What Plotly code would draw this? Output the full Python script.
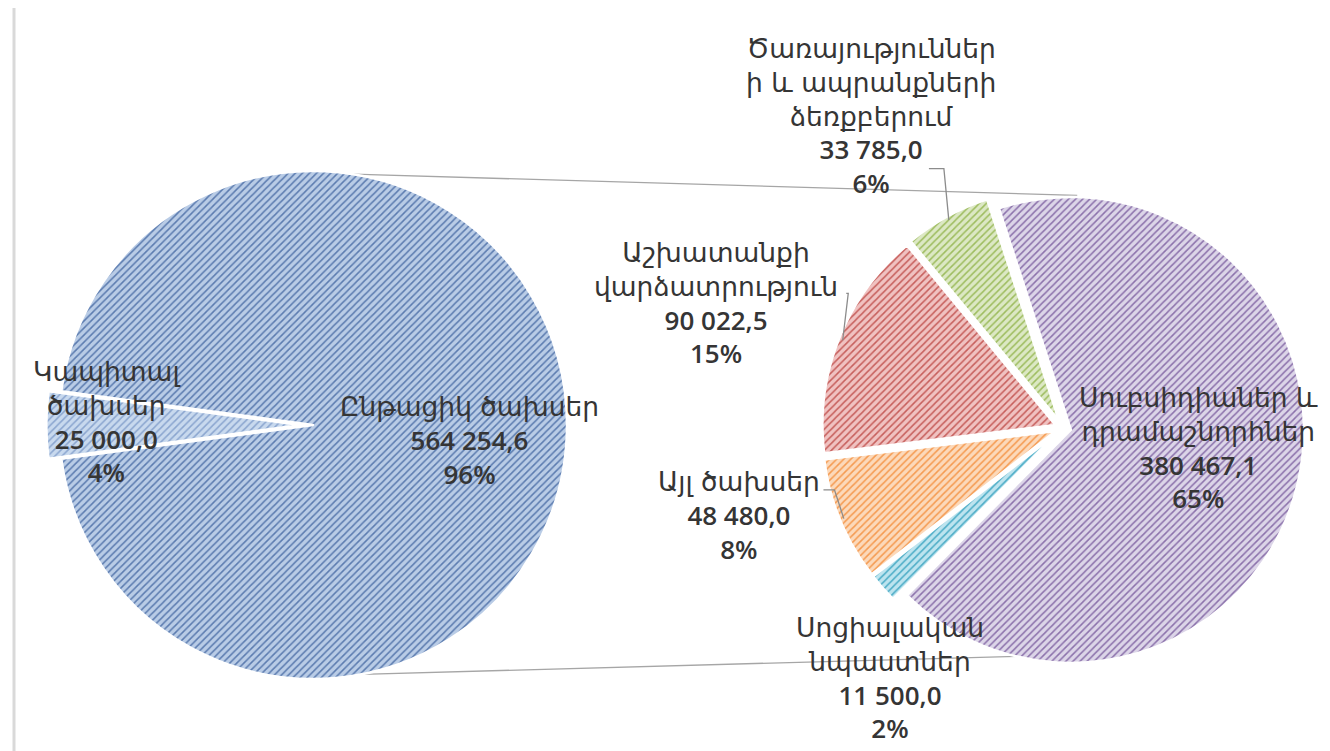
import math
import plotly.graph_objects as go

# ---------------- data ----------------
main_labels = ["Կապիտալ<br>ծախսեր", "Ընթացիկ ծախսեր"]
main_values = [25000.0, 564254.6]

sub_labels = [
    "Սուբսիդիաներ և<br>դրամաշնորհներ",
    "Սոցիալական<br>նպաստներ",
    "Այլ ծախսեր",
    "Աշխատանքի<br>վարձատրություն",
    "Ծառայություններ<br>ի և ապրանքների<br>ձեռքբերում",
]
sub_values = [380467.1, 11500.0, 48480.0, 90022.5, 33785.0]

# ---------------- styles ----------------
W, H = 1330, 751
main_bg = ["#C8D9EE", "#B9CCE6"]
main_fg = ["#8AA5CF", "#5B7BAF"]
sub_bg = ["#DCD5E8", "#BDE4EF", "#FCD9BA", "#F0C2C1", "#DCE8C4"]
sub_fg = ["#8B71AB", "#4BACC6", "#F59A50", "#C65E5B", "#9DBC5E"]

L_CX, L_CY, L_R, L_PULL = 305, 417, 254, 0.05
R_CX, R_CY, R_R, R_PULL = 1055, 420, 233, 0.035
R_ROT = -18

ARM_FONT = "DejaVu Sans"
NUM_FONT = "Open Sans"
TXT = "#353535"

grand_total = sum(main_values)


def fmt_num(v):
    return f"{v:,.1f}".replace(",", " ").replace(".", ",")


def fmt_pct(v):
    return f"{round(v / grand_total * 100)}%"


def domain(cx, cy, r, pull):
    half = r * (1 + pull)
    return dict(x=[(cx - half) / W, (cx + half) / W],
                y=[1 - (cy + half) / H, 1 - (cy - half) / H])


def slice_mids(values, rotation):
    tot = sum(values)
    mids, a = [], rotation
    for v in values:
        span = v / tot * 360
        mids.append(a + span / 2)
        a += span
    return mids


def polar(cx, cy, r, ang):
    t = math.radians(ang)
    return cx + r * math.sin(t), cy - r * math.cos(t)


def px(x, y):
    return x / W, 1 - y / H


# rotation of the main pie: the small slice centred on the left side
main_rot = 270 - main_values[0] / sum(main_values) * 360 / 2

fig = go.Figure()
fig.add_trace(go.Pie(
    values=main_values, labels=[l.replace("<br>", " ") for l in main_labels],
    sort=False, direction="clockwise", rotation=main_rot,
    pull=[L_PULL, 0], textinfo="none", showlegend=False,
    marker=dict(colors=main_bg, line=dict(color="white", width=2.5),
                pattern=dict(shape="/", fgcolor=main_fg, bgcolor=main_bg,
                             size=5, solidity=0.3, fillmode="replace")),
    domain=domain(L_CX, L_CY, L_R, L_PULL),
))
fig.add_trace(go.Pie(
    values=sub_values, labels=[l.replace("<br>", " ") for l in sub_labels],
    sort=False, direction="clockwise", rotation=R_ROT,
    pull=[R_PULL] * len(sub_values), textinfo="none", showlegend=False,
    marker=dict(colors=sub_bg, line=dict(color="white", width=2.5),
                pattern=dict(shape="/", fgcolor=sub_fg, bgcolor=sub_bg,
                             size=5, solidity=0.3, fillmode="replace")),
    domain=domain(R_CX, R_CY, R_R, R_PULL),
))

# label placement: (angle offset from slice middle, radius factor)
main_lab_pos = [(0.5, 0.81), (6, 0.62)]
sub_lab_pos = [(-4.7, 0.59), (-13.8, 1.31), (7.1, 1.44), (-2.1, 1.58), (-2.9, 1.57)]
# leader lines: (start, elbow) offsets relative to label centre in px
sub_leaders = [None, None, ((84, -27), (95, -27)), ((130, -11), (132, -11)),
               ((58, 52), (73, 52))]


def label_text(name, v):
    return (f"<span style='font-family:{ARM_FONT};font-size:26.5px'>{name}</span>"
            f"<br><span style='font-weight:600'>{fmt_num(v)}<br>{fmt_pct(v)}</span>")


annotations = []
shapes = []

for name, v, mid, (da, rf) in zip(main_labels, main_values,
                                   slice_mids(main_values, main_rot), main_lab_pos):
    x, y = polar(L_CX, L_CY, L_R * rf, mid + da)
    ax, ay = px(x, y)
    annotations.append(dict(x=ax, y=ay, xref="paper", yref="paper", text=label_text(name, v),
                            showarrow=False, xanchor="center", yanchor="middle",
                            font=dict(family=NUM_FONT, size=26, color=TXT)))

for name, v, mid, (da, rf), ld in zip(sub_labels, sub_values,
                                       slice_mids(sub_values, R_ROT), sub_lab_pos, sub_leaders):
    x, y = polar(R_CX, R_CY, R_R * rf, mid + da)
    ax, ay = px(x, y)
    annotations.append(dict(x=ax, y=ay, xref="paper", yref="paper", text=label_text(name, v),
                            showarrow=False, xanchor="center", yanchor="middle",
                            font=dict(family=NUM_FONT, size=26, color=TXT)))
    if ld:
        (sx, sy), (ex, ey) = ld
        tx, ty = polar(R_CX, R_CY, R_R * (1 + R_PULL) - 4, mid)
        pts = [px(x + sx, y + sy), px(x + ex, y + ey), px(tx, ty)]
        path = "M " + " L ".join(f"{a:.5f},{b:.5f}" for a, b in pts)
        shapes.append(dict(type="path", path=path, xref="paper", yref="paper",
                           line=dict(color="#8C8C8C", width=1.3)))

# connector lines between the two pies
for la, ra in [(9, 3.5), (169, 191.5)]:
    x0, y0 = polar(L_CX, L_CY, L_R, la)
    x1, y1 = polar(R_CX, R_CY, R_R, ra)
    (a0, b0), (a1, b1) = px(x0, y0), px(x1, y1)
    shapes.append(dict(type="line", x0=a0, y0=b0, x1=a1, y1=b1, xref="paper", yref="paper",
                       layer="below", line=dict(color="#A6A6A6", width=1.3)))

# chart frame edge on the left
shapes.append(dict(type="line", x0=6 / W, x1=6 / W, y0=0, y1=1, xref="paper", yref="paper",
                   line=dict(color="#D9D9D9", width=3)))

fig.update_layout(
    width=W, height=H, margin=dict(l=0, r=0, t=0, b=0),
    paper_bgcolor="white", plot_bgcolor="white",
    separators=", ", annotations=annotations, shapes=shapes,
)

fig.write_html("out.html")
